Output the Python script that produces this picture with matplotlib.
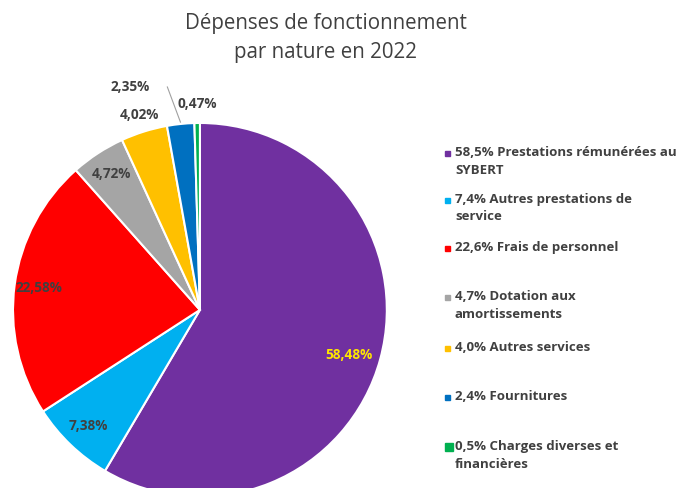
import numpy as np
import matplotlib.pyplot as plt
from matplotlib.patches import Rectangle

# data
values = [58.48, 7.38, 22.58, 4.72, 4.02, 2.35, 0.47]
pct_labels = ["58,48%", "7,38%", "22,58%", "4,72%", "4,02%", "2,35%", "0,47%"]
legend_labels = ["58,5% Prestations rémunérées au\nSYBERT",
                 "7,4% Autres prestations de\nservice",
                 "22,6% Frais de personnel",
                 "4,7% Dotation aux\namortissements",
                 "4,0% Autres services",
                 "2,4% Fournitures",
                 "0,5% Charges diverses et\nfinancières"]
colors = ["#7030A0", "#00B0F0", "#FF0000", "#A5A5A5", "#FFC000", "#0070C0", "#00B050"]

plt.rcParams['font.family'] = ['Open Sans', 'DejaVu Sans']
text_col = "#404040"

fig = plt.figure(figsize=(6.8, 4.88), dpi=100)
ax = fig.add_axes([0.019, -0.018, 0.55, 0.766])
wedges, _ = ax.pie(values, colors=colors, startangle=90, counterclock=False,
                   wedgeprops=dict(edgecolor='white', linewidth=1.5))
ax.set_aspect('equal')
ax.set_xlim(-1, 1)
ax.set_ylim(-1, 1)

# label placement (radius fraction, angle offset) per slice
lab_r = [0.83, 0.86, 0.87, 0.87, 1.09, 1.25, 1.1]
lab_da = [-1.5, 0, 0, 0, 0, 11.5, 0]
lab_col = ["#FFE600", text_col, text_col, text_col, text_col, text_col, text_col]
for i, w in enumerate(wedges):
    mid = (w.theta1 + w.theta2) / 2 + lab_da[i]
    x = lab_r[i] * np.cos(np.radians(mid))
    y = lab_r[i] * np.sin(np.radians(mid))
    ax.text(x, y, pct_labels[i], ha='center', va='center', fontsize=9.8,
            fontweight='bold', color=lab_col[i], clip_on=False)
    if i == 5:
        m0 = np.radians((w.theta1 + w.theta2) / 2)
        ax.plot([x + 0.2, np.cos(m0) * 1.01], [y, np.sin(m0) * 1.01],
                color='#A0A0A0', lw=0.8, clip_on=False)

fig.text(326 / 680, 1 - 38 / 488, "Dépenses de fonctionnement\npar nature en 2022", ha='center',
         va='center', fontsize=14.8, color=text_col, linespacing=1.45)

# legend drawn by hand to keep the uneven spacing
leg_y = [153, 200, 248, 297, 348, 397, 447]
for i, lab in enumerate(legend_labels):
    yf = 1 - leg_y[i] / 488
    sz = 5 if i < 6 else 8
    fig.patches.append(Rectangle((445 / 680, yf - sz / 2 / 488), sz / 680, sz / 488,
                                 transform=fig.transFigure, color=colors[i]))
    fig.text(455 / 680, yf + 7 / 488, lab, ha='left', va='top', fontsize=9.5,
             fontweight='bold', color=text_col, linespacing=1.45)

fig.savefig('out.png', dpi=100)
